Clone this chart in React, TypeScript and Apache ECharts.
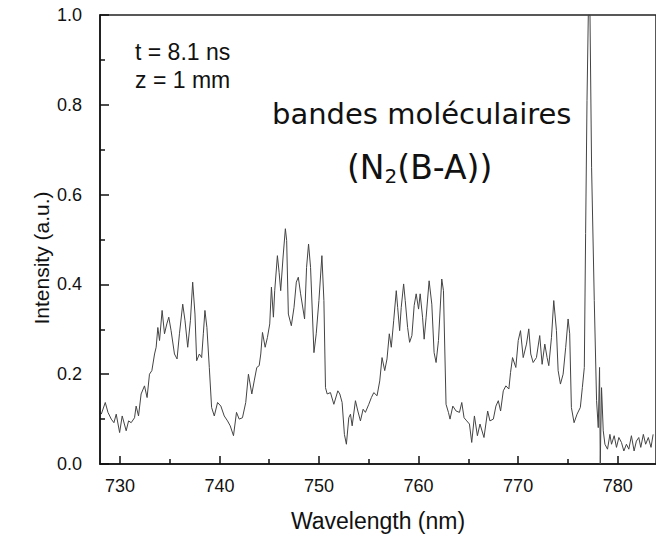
import React, { useEffect, useRef } from "react";
import * as echarts from "echarts";

// Emission spectrum: wavelength (nm) and normalised intensity (a.u.)
const wavelength = [
  728.13, 728.53, 728.8, 729.13, 729.4, 729.63, 729.97, 730.23, 730.63, 730.87,
  731.13, 731.47, 731.63, 731.87, 732.13, 732.47, 732.73, 732.97, 733.21, 733.48,
  733.64, 733.81, 733.98, 734.24, 734.48, 734.71, 734.91, 735.14, 735.48, 735.74,
  735.98, 736.31, 736.54, 736.81, 737.08, 737.31, 737.54, 737.71, 737.98, 738.21,
  738.38, 738.54, 738.74, 738.98, 739.21, 739.48, 739.81, 740.14, 740.48, 740.81,
  741.08, 741.41, 741.71, 741.98, 742.31, 742.64, 742.91, 743.25, 743.49, 743.75,
  743.99, 744.15, 744.32, 744.59, 744.82, 745.05, 745.22, 745.42, 745.55, 745.82,
  745.99, 746.15, 746.39, 746.62, 746.75, 746.92, 747.22, 747.49, 747.72, 747.92,
  748.15, 748.55, 748.75, 748.95, 749.15, 749.49, 749.72, 749.99, 750.29, 750.49,
  750.65, 750.82, 751.15, 751.49, 751.89, 752.09, 752.32, 752.55, 752.75, 752.99,
  753.16, 753.33, 753.66, 753.9, 754.16, 754.43, 754.66, 755.0, 755.26, 755.5,
  755.83, 756.1, 756.33, 756.6, 756.83, 757.06, 757.26, 757.5, 757.76, 757.9,
  758.1, 758.26, 758.5, 758.66, 758.9, 759.1, 759.33, 759.56, 759.76, 760.0,
  760.16, 760.4, 760.56, 760.76, 761.06, 761.33, 761.56, 761.76, 762.0, 762.33,
  762.5, 762.76, 763.0, 763.16, 763.44, 763.77, 764.11, 764.34, 764.57, 764.84,
  765.11, 765.34, 765.61, 765.91, 766.17, 766.57, 766.94, 767.17, 767.51, 767.77,
  768.01, 768.24, 768.51, 768.77, 769.07, 769.24, 769.44, 769.77, 770.01, 770.24,
  770.51, 770.84, 771.07, 771.27, 771.51, 771.84, 772.17, 772.41, 772.68, 772.91,
  773.08, 773.35, 773.58, 773.85, 774.02, 774.25, 774.52, 774.78, 775.02, 775.18,
  775.35, 775.62, 775.92, 776.25, 776.45, 776.65, 776.78, 776.92, 777.05, 777.22,
  777.38, 777.65, 777.88, 778.05, 778.18, 778.25, 778.38, 778.55, 778.72, 778.98,
  779.22, 779.38, 779.65, 779.88, 780.12, 780.38, 780.62, 780.88, 781.12, 781.38,
  781.65, 781.88, 782.12, 782.32, 782.58, 782.81, 783.08, 783.35, 783.56,
];

const intensity = [
  0.111, 0.137, 0.115, 0.1, 0.092, 0.111, 0.07, 0.107, 0.074, 0.096,
  0.092, 0.103, 0.129, 0.107, 0.156, 0.174, 0.148, 0.2, 0.208, 0.245,
  0.26, 0.304, 0.275, 0.342, 0.29, 0.312, 0.327, 0.297, 0.245, 0.234,
  0.29, 0.356, 0.319, 0.26, 0.319, 0.405, 0.334, 0.23, 0.245, 0.237,
  0.29, 0.342, 0.304, 0.215, 0.126, 0.107, 0.137, 0.129, 0.107, 0.096,
  0.085, 0.063, 0.115, 0.1, 0.103, 0.137, 0.2, 0.156, 0.185, 0.215,
  0.219, 0.245, 0.293, 0.26, 0.282, 0.312, 0.394, 0.327, 0.386, 0.464,
  0.427, 0.386, 0.461, 0.524, 0.498, 0.334, 0.308, 0.349, 0.405, 0.416,
  0.379, 0.323, 0.438, 0.49, 0.438, 0.248, 0.29, 0.364, 0.464, 0.364,
  0.17, 0.156, 0.159, 0.133, 0.163, 0.156, 0.137, 0.066, 0.044, 0.103,
  0.111, 0.085, 0.141, 0.118, 0.096, 0.122, 0.115, 0.133, 0.148, 0.159,
  0.152, 0.185, 0.237, 0.208, 0.234, 0.29, 0.26, 0.319, 0.386, 0.349,
  0.297, 0.349, 0.401, 0.364, 0.304, 0.271, 0.286, 0.353, 0.379, 0.345,
  0.379, 0.327, 0.278, 0.327, 0.408, 0.356, 0.248, 0.226, 0.275, 0.412,
  0.386, 0.133, 0.115, 0.1, 0.129, 0.118, 0.115, 0.137, 0.103, 0.096,
  0.089, 0.048, 0.107, 0.063, 0.089, 0.059, 0.118, 0.096, 0.1, 0.129,
  0.141, 0.118, 0.163, 0.174, 0.167, 0.204, 0.237, 0.215, 0.275, 0.297,
  0.237, 0.267, 0.301, 0.245, 0.226, 0.237, 0.286, 0.222, 0.267, 0.237,
  0.219, 0.282, 0.364, 0.297, 0.208, 0.178, 0.2, 0.26, 0.323, 0.29,
  0.126, 0.092, 0.111, 0.126, 0.17, 0.215, 0.513, 0.81, 1.0, 1.0,
  0.661, 0.364, 0.141, 0.081, 0.215, 0.0, 0.17, 0.074, 0.044, 0.033,
  0.066, 0.044, 0.063, 0.037, 0.059, 0.048, 0.029, 0.044, 0.033, 0.063,
  0.029, 0.051, 0.059, 0.037, 0.066, 0.044, 0.059, 0.037, 0.066,
];

const xMajorTicks = [730, 740, 750, 760, 770, 780];
const xMinorTicks = [735, 745, 755, 765, 775];

const X_MIN = 728;
const X_MAX = 783.85;

const AXIS_FONT = '"Liberation Sans", Arial, sans-serif';
const NOTE_FONT = '"DejaVu Sans", sans-serif';
const INK = "#111";

export default function App() {
  const ref = useRef<HTMLDivElement>(null);

  useEffect(() => {
    if (!ref.current) return;
    const chart = echarts.init(ref.current, null, { renderer: "svg" });

    const gridBox = { left: 100, top: 15, right: -2, bottom: 73 };
    const tickLine = { color: INK, width: 1.5 };

    chart.setOption({
      animation: false,
      backgroundColor: "#fff",
      grid: [
        { ...gridBox, show: true, borderColor: "#222", borderWidth: 1.5, backgroundColor: "transparent" },
        { ...gridBox, show: false },
      ],
      xAxis: [
        {
          type: "value",
          gridIndex: 0,
          min: X_MIN,
          max: X_MAX,
          position: "bottom",
          name: "Wavelength (nm)",
          nameLocation: "middle",
          nameGap: 45,
          nameTextStyle: { fontSize: 23, color: INK, fontFamily: AXIS_FONT },
          axisLine: { show: true, onZero: false, lineStyle: { color: INK, width: 1.5 } },
          axisTick: {
            show: true,
            inside: true,
            length: 8,
            customValues: xMajorTicks,
            lineStyle: tickLine,
          },
          axisLabel: {
            customValues: xMajorTicks,
            fontSize: 18,
            color: INK,
            fontFamily: AXIS_FONT,
            margin: 13,
          },
          splitLine: { show: false },
        },
        {
          type: "value",
          gridIndex: 1,
          min: X_MIN,
          max: X_MAX,
          position: "bottom",
          axisLine: { show: false },
          axisTick: {
            show: true,
            inside: true,
            length: 5,
            customValues: xMinorTicks,
            lineStyle: tickLine,
          },
          axisLabel: { show: false },
          splitLine: { show: false },
        },
      ],
      yAxis: [
        {
          type: "value",
          gridIndex: 0,
          min: 0,
          max: 1,
          interval: 0.2,
          axisLine: { show: true, onZero: false, lineStyle: { color: INK, width: 1.5 } },
          axisTick: { show: true, inside: true, length: 9, lineStyle: tickLine },
          minorTick: { show: true, splitNumber: 2, length: 5, lineStyle: tickLine },
          axisLabel: {
            fontSize: 18,
            color: INK,
            fontFamily: AXIS_FONT,
            margin: 18,
            formatter: (v: number) => v.toFixed(1),
          },
          splitLine: { show: false },
        },
        {
          type: "value",
          gridIndex: 1,
          min: 0,
          max: 1,
          show: false,
        },
      ],
      graphic: [
        {
          type: "text",
          x: 41,
          y: 258,
          rotation: Math.PI / 2,
          style: {
            text: "Intensity (a.u.)",
            font: `21px ${AXIS_FONT}`,
            fill: INK,
            align: "center",
            verticalAlign: "middle",
          },
        },
        {
          type: "text",
          left: 135,
          top: 38,
          style: {
            text: "t = 8.1 ns\nz = 1 mm",
            font: `23px ${AXIS_FONT}`,
            lineHeight: 28,
            fill: INK,
          },
        },
        {
          type: "text",
          left: 272,
          top: 99,
          style: {
            text: "bandes moléculaires",
            font: `29px ${NOTE_FONT}`,
            fill: INK,
          },
        },
        {
          type: "text",
          left: 347,
          top: 148,
          style: {
            text: "(N{sub|2}(B-A))",
            font: `33px ${NOTE_FONT}`,
            fill: INK,
            lineHeight: 38,
            rich: {
              sub: {
                fontSize: 20,
                fontFamily: NOTE_FONT,
                fill: INK,
                lineHeight: 38,
                verticalAlign: "bottom",
                padding: [15, 0, 0, 0],
              },
            },
          },
        },
      ],
      series: [
        {
          type: "line",
          xAxisIndex: 0,
          yAxisIndex: 0,
          data: wavelength.map((w, i) => [w, intensity[i]]),
          showSymbol: false,
          symbol: "none",
          lineStyle: { color: "#444", width: 1 },
          clip: true,
        },
      ],
    });

    return () => chart.dispose();
  }, []);

  return (
    <div
      ref={ref}
      style={{ position: "fixed", left: 0, top: 0, width: 656, height: 537, background: "#fff" }}
    />
  );
}
